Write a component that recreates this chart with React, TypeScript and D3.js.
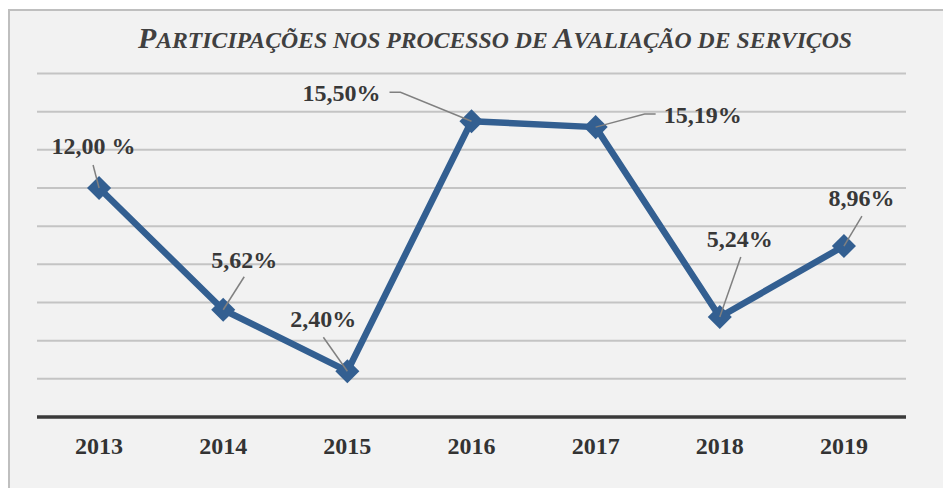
import React from 'react';
import * as d3 from 'd3';

const years = ['2013', '2014', '2015', '2016', '2017', '2018', '2019'];
const values = [12.0, 5.62, 2.4, 15.5, 15.19, 5.24, 8.96];
const valueLabels = ['12,00 %', '5,62%', '2,40%', '15,50%', '15,19%', '5,24%', '8,96%'];
const title = 'Participações nos processo de Avaliação de serviços';

// label placement relative to each point: text offset + leader line waypoints
const labelLayout = [
    { dx: -5.5, dy: -34, leader: [[-6, -23]] },
    { dx: 21, dy: -42, leader: [[21, -33]] },
    { dx: -24, dy: -44, leader: [[-24, -34]] },
    { dx: -130, dy: -20, leader: [[-82, -29], [-71, -29]] },
    { dx: 107, dy: -4, leader: [[60, -13], [49, -13]] },
    { dx: 20, dy: -70, leader: [[21, -60]] },
    { dx: 17.5, dy: -40, leader: [[18, -30]] },
];

const W = 943;
const H = 488;
const left = 37;
const right = 906;
const base = 417;
const top = 73.5;

const serif = "'Liberation Serif', 'Times New Roman', Times, serif";

// word-style small caps: capitals full size, the rest upper-cased and smaller
function smallCaps(s: string) {
    const runs: { big: boolean; t: string }[] = [];
    for (const ch of s) {
        const big = ch !== ch.toLowerCase();
        const last = runs[runs.length - 1];
        if (last && last.big === big) last.t += ch.toUpperCase();
        else runs.push({ big, t: ch.toUpperCase() });
    }
    return runs.map((r, i) => (
        <tspan key={i} fontSize={r.big ? 29 : 23}>
            {r.t}
        </tspan>
    ));
}

export default function App() {
    const x = d3.scaleBand().domain(years).range([left, right]);
    const cx = (d: string) => (x(d) as number) + x.bandwidth() / 2;
    const y = d3.scaleLinear().domain([0, 18]).range([base, top]);

    const pts = years.map((d, i) => [cx(d), y(values[i])] as [number, number]);
    const line = d3.line()(pts) as string;
    const diamond = d3.symbol(d3.symbolSquare, 290)() as string;

    const ticks = y.ticks(9).filter((t) => t > 0);

    return (
        <div style={{ position: 'fixed', left: 0, top: 0 }}>
            <svg width={W} height={H} style={{ display: 'block', fontFamily: serif }}>
                <rect x={0} y={0} width={W} height={H} fill="#ffffff" />
                <rect x={9} y={10} width={W + 10} height={H + 10} fill="#f2f2f2" stroke="#bfbfbf" strokeWidth={2} />

                <text
                    x={495}
                    y={48}
                    textAnchor="middle"
                    fontWeight="bold"
                    fontStyle="italic"
                    fill="#404040"
                    textLength={714}
                    lengthAdjust="spacingAndGlyphs"
                >
                    {smallCaps(title)}
                </text>

                {ticks.map((t) => (
                    <line key={t} x1={left} x2={right} y1={y(t)} y2={y(t)} stroke="#c4c4c4" strokeWidth={2} />
                ))}
                <line x1={left} x2={right} y1={y(0)} y2={y(0)} stroke="#3a3a3a" strokeWidth={3.5} />

                {years.map((d) => (
                    <text key={d} x={cx(d)} y={454} textAnchor="middle" fontSize={24} fontWeight="bold" fill="#333333">
                        {d}
                    </text>
                ))}

                <path d={line} fill="none" stroke="#335f91" strokeWidth={6.5} strokeLinejoin="round" />
                {pts.map((p, i) => (
                    <path key={i} d={diamond} transform={`translate(${p[0]},${p[1]}) rotate(45)`} fill="#335f91" />
                ))}

                {pts.map((p, i) => {
                    const l = labelLayout[i];
                    const lp = l.leader.map(([a, b]) => [p[0] + a, p[1] + b] as [number, number]);
                    return (
                        <g key={i}>
                            <path d={d3.line()([...lp, p]) as string} fill="none" stroke="#808080" strokeWidth={1.5} />
                            <text
                                x={p[0] + l.dx}
                                y={p[1] + l.dy}
                                textAnchor="middle"
                                fontSize={24}
                                fontWeight="bold"
                                fill="#383838"
                            >
                                {valueLabels[i]}
                            </text>
                        </g>
                    );
                })}
            </svg>
        </div>
    );
}
